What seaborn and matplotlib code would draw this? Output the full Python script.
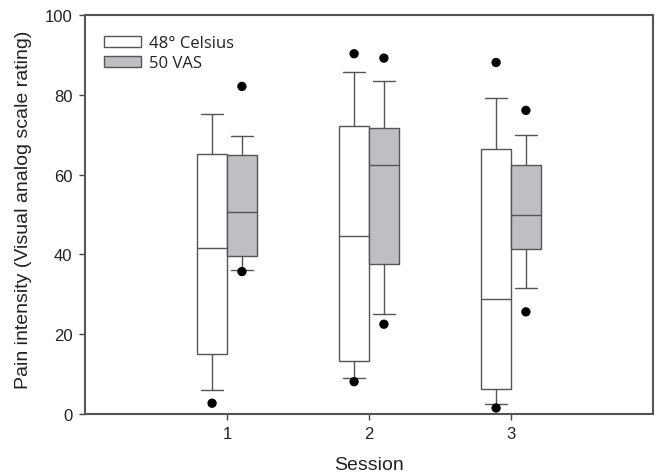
import matplotlib
matplotlib.use("Agg")
import matplotlib.pyplot as plt
from matplotlib.patches import Patch
import pandas as pd
import seaborn as sns

sns.set_style("ticks")
plt.rcParams["font.family"] = ["Liberation Sans", "DejaVu Sans"]

SESSIONS = [1, 2, 3]
GROUPS = ["48° Celsius", "50 VAS"]
COLORS = {"48° Celsius": "#ffffff", "50 VAS": "#bfbfc3"}

# box stats (whiskers = 10th / 90th percentile)
CELSIUS_Q1 = [15.1, 13.4, 6.2]
CELSIUS_MED = [41.7, 44.6, 28.7]
CELSIUS_Q3 = [65.2, 72.3, 66.3]
CELSIUS_LO = [6.0, 8.9, 2.6]
CELSIUS_HI = [75.2, 85.8, 79.1]
CELSIUS_OUT = [[2.7], [90.3, 8.1], [88.1, 1.5]]

VAS_Q1 = [39.7, 37.7, 41.4]
VAS_MED = [50.7, 62.4, 49.9]
VAS_Q3 = [64.8, 71.7, 62.5]
VAS_LO = [36.1, 25.1, 31.7]
VAS_HI = [69.7, 83.4, 70.0]
VAS_OUT = [[82.1, 35.7], [89.2, 22.5], [76.1, 25.6]]

OFFSET = 0.105
WIDTH = 0.21


def box_stats(q1, med, q3, lo, hi):
    return [dict(q1=a, med=b, q3=c, whislo=d, whishi=e, fliers=[])
            for a, b, c, d, e in zip(q1, med, q3, lo, hi)]


fig = plt.figure(figsize=(6.57, 4.77), dpi=100)
ax = fig.add_axes([85 / 657, 62 / 477, 568 / 657, 399 / 477])

edge = "#555555"
groups = {
    "48° Celsius": (box_stats(CELSIUS_Q1, CELSIUS_MED, CELSIUS_Q3, CELSIUS_LO, CELSIUS_HI), -OFFSET),
    "50 VAS": (box_stats(VAS_Q1, VAS_MED, VAS_Q3, VAS_LO, VAS_HI), OFFSET),
}
for name, (stats, off) in groups.items():
    ax.bxp(stats, positions=[s + off for s in SESSIONS], widths=WIDTH,
           patch_artist=True, showfliers=False,
           boxprops=dict(facecolor=COLORS[name], edgecolor=edge, linewidth=1.0),
           medianprops=dict(color=edge, linewidth=1.0),
           whiskerprops=dict(color=edge, linewidth=1.0),
           capprops=dict(color=edge, linewidth=1.0),
           capwidths=0.16, manage_ticks=False)

# outliers
rows = []
for name, outs, off in [("48° Celsius", CELSIUS_OUT, -OFFSET), ("50 VAS", VAS_OUT, OFFSET)]:
    for s, vals in zip(SESSIONS, outs):
        for v in vals:
            rows.append({"x": s + off, "value": v, "group": name})
out_df = pd.DataFrame(rows)
sns.scatterplot(data=out_df, x="x", y="value", color="black", s=45,
                edgecolor="none", legend=False, ax=ax, zorder=5)

ax.set_xlim(0, 4)
ax.set_ylim(0, 100)
ax.set_xticks(SESSIONS)
ax.set_xticklabels([str(s) for s in SESSIONS])
ax.set_yticks(range(0, 101, 20))
ax.tick_params(axis="both", labelsize=12, length=4, width=1.0, color="#444444",
               labelcolor="#222222", pad=5, direction="out")
ax.tick_params(top=False, right=False)
for side in ax.spines.values():
    side.set_visible(True)
    side.set_color("#555555")
    side.set_linewidth(1.5)

ax.set_xlabel("Session", fontsize=14, color="#222222")
ax.set_ylabel("Pain intensity (Visual analog scale rating)", fontsize=14, color="#222222")
ax.xaxis.set_label_coords(0.5, -0.105)
ax.yaxis.set_label_coords(-53 / 568, 0.515)

handles = [Patch(facecolor=COLORS[g], edgecolor=edge, linewidth=1.0) for g in GROUPS]
leg = ax.legend(handles, GROUPS, loc="upper left",
                bbox_to_anchor=(19 / 568, 1 - 20 / 399), frameon=False,
                borderaxespad=0, borderpad=0, handlelength=2.2, handleheight=0.65,
                handletextpad=0.5, labelspacing=0.27,
                prop={"family": "Open Sans", "size": 12})
for t in leg.get_texts():
    t.set_color("#222222")

fig.savefig("out.png", dpi=100)
